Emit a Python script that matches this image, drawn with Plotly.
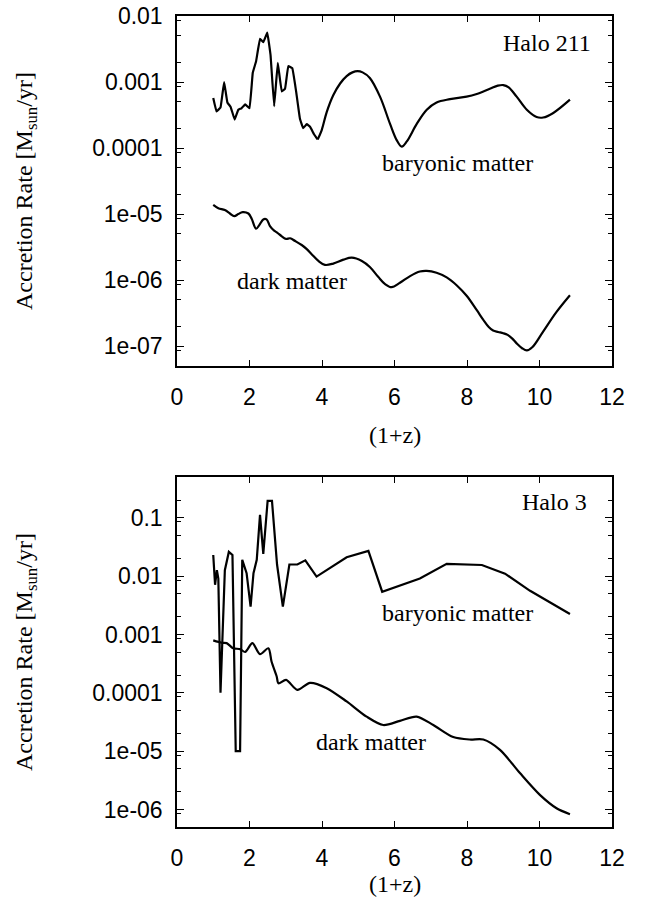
import math
import plotly.graph_objects as go

# ---------------- data ----------------
# Halo 211 (top panel)
h211_bar_x = [1.00, 1.09, 1.20, 1.30, 1.39, 1.48, 1.59, 1.69, 1.78, 1.88, 2.00, 2.09, 2.18, 2.29,
              2.38, 2.49, 2.58, 2.68, 2.78, 2.89, 2.98, 3.07, 3.18, 3.28, 3.39, 3.48, 3.58, 3.67,
              3.78, 3.88, 3.99, 4.13, 4.31, 4.50, 4.68, 4.84, 4.98, 5.12, 5.32, 5.60, 5.88, 6.06, 6.20,
              6.34, 6.61, 6.89, 7.16, 7.53, 7.99, 8.27, 8.63, 8.85, 9.00, 9.15, 9.37, 9.65, 9.92, 10.10,
              10.38, 10.84]
h211_bar_y = [5.75e-4, 3.6e-4, 4.1e-4, 1.0e-3, 4.9e-4, 4.2e-4, 2.7e-4, 3.8e-4, 4.0e-4, 4.6e-4,
              4.0e-4, 1.38e-3, 2.04e-3, 4.5e-3, 4.0e-3, 5.6e-3, 2.57e-3, 4.3e-4, 1.95e-3, 7.2e-4,
              7.9e-4, 1.74e-3, 1.62e-3, 7.6e-4, 2.8e-4, 2.0e-4, 2.3e-4, 2.1e-4, 1.62e-4, 1.35e-4,
              1.86e-4, 3.5e-4, 6.3e-4, 9.5e-4, 1.23e-3, 1.40e-3, 1.46e-3, 1.40e-3, 1.15e-3, 6.0e-4, 2.3e-4,
              1.32e-4, 1.05e-4, 1.26e-4, 2.3e-4, 3.8e-4, 4.9e-4, 5.5e-4, 6.0e-4, 6.6e-4, 7.9e-4,
              8.8e-4, 9.0e-4, 8.3e-4, 6.0e-4, 3.8e-4, 2.95e-4, 2.9e-4, 3.4e-4, 5.4e-4]

h211_dm_x = [1.00, 1.14, 1.32, 1.46, 1.58, 1.69, 1.81, 1.97, 2.06, 2.18, 2.27, 2.38, 2.47, 2.57,
             2.68, 2.77, 2.89, 3.01, 3.12, 3.26, 3.44, 3.58, 3.72, 3.90, 4.08, 4.31, 4.59, 4.82,
             5.10, 5.32, 5.55, 5.74, 5.92, 6.15, 6.43, 6.70, 6.89, 7.16, 7.44, 7.72, 7.99, 8.27,
             8.45, 8.60, 8.72, 8.86, 9.00, 9.12, 9.25, 9.37, 9.52, 9.65, 9.80, 10.10, 10.47, 10.84]
h211_dm_y = [1.38e-5, 1.23e-5, 1.15e-5, 1.02e-5, 9.3e-6, 1.0e-5, 1.07e-5, 1.02e-5, 8.5e-6, 6.0e-6,
             6.8e-6, 8.3e-6, 8.3e-6, 6.5e-6, 5.6e-6, 5.2e-6, 4.6e-6, 4.2e-6, 4.3e-6, 3.9e-6,
             3.4e-6, 2.95e-6, 2.45e-6, 1.95e-6, 1.7e-6, 1.78e-6, 2.04e-6, 2.19e-6, 1.95e-6,
             1.58e-6, 1.12e-6, 8.7e-7, 7.8e-7, 9.1e-7, 1.15e-6, 1.35e-6, 1.38e-6, 1.29e-6, 1.1e-6,
             8.3e-7, 5.8e-7, 3.5e-7, 2.5e-7, 1.95e-7, 1.72e-7, 1.64e-7, 1.57e-7, 1.48e-7, 1.3e-7,
             1.1e-7, 9.3e-8, 8.6e-8, 9.6e-8, 1.66e-7, 3.3e-7, 5.9e-7]

# Halo 3 (bottom panel)
h3_bar_x = [1.00, 1.05, 1.10, 1.14, 1.20, 1.32, 1.43, 1.53, 1.62, 1.74, 1.80, 1.92, 2.03, 2.11,
            2.20, 2.29, 2.38, 2.50, 2.62, 2.76, 2.92, 3.10, 3.32, 3.54, 3.85, 4.25, 4.68, 5.28,
            5.66, 6.70, 7.44, 8.41, 9.05, 9.74, 10.84]
h3_bar_y = [2.3e-2, 7.1e-3, 1.26e-2, 9.1e-3, 1.0e-4, 1.26e-2, 2.6e-2, 2.3e-2, 1.0e-5, 1.0e-5,
            1.9e-2, 1.12e-2, 3.0e-3, 1.12e-2, 1.9e-2, 0.112, 2.4e-2, 0.195, 0.195, 1.58e-2,
            3.0e-3, 1.58e-2, 1.58e-2, 1.86e-2, 9.8e-3, 1.41e-2, 2.1e-2, 2.7e-2, 5.4e-3, 9.1e-3,
            1.62e-2, 1.55e-2, 1.1e-2, 5.6e-3, 2.24e-3]

h3_dm_x = [1.00, 1.23, 1.37, 1.55, 1.74, 1.88, 2.08, 2.29, 2.52, 2.61, 2.75, 2.80, 3.01, 3.32,
           3.67, 4.13, 4.68, 5.23, 5.69, 6.15, 6.61, 7.07, 7.62, 8.08, 8.45, 8.91, 9.46, 10.01,
           10.47, 10.84]
h3_dm_y = [7.9e-4, 7.2e-4, 7.1e-4, 5.8e-4, 5.6e-4, 5.0e-4, 7.1e-4, 4.6e-4, 5.8e-4, 3.4e-4,
           1.9e-4, 1.45e-4, 1.66e-4, 1.12e-4, 1.48e-4, 1.2e-4, 7.1e-5, 3.9e-5, 2.8e-5, 3.3e-5,
           3.9e-5, 2.8e-5, 1.74e-5, 1.58e-5, 1.58e-5, 1.05e-5, 4.2e-6, 1.78e-6, 1.05e-6, 8.3e-7]

x_ticks = [0, 2, 4, 6, 8, 10, 12]
top_y_ticks = [1e-7, 1e-6, 1e-5, 1e-4, 1e-3, 1e-2]
top_y_labels = ["1e-07", "1e-06", "1e-05", "0.0001", "0.001", "0.01"]
bot_y_ticks = [1e-6, 1e-5, 1e-4, 1e-3, 1e-2, 1e-1]
bot_y_labels = ["1e-06", "1e-05", "0.0001", "0.001", "0.01", "0.1"]
minor_mult = [2, 5, 8.5]

# ---------------- figure ----------------
W, H = 651, 904
X0, X1 = 177, 612
TOP = (16, 366)
BOT = (477, 827)

def ydom(p):
    return [1 - p[1] / H, 1 - p[0] / H]

SANS = "Liberation Sans, Arial, sans-serif"
SERIF = "Liberation Serif, Times New Roman, serif"
LINE = dict(color="black", width=2.2)

# the noisy low-(1+z) part of the Halo 211 baryonic curve is drawn with straight
# segments, the smooth remainder with a spline (both from the same arrays)
split = h211_bar_x.index(3.88)

fig = go.Figure()
fig.add_trace(go.Scatter(x=h211_bar_x[:split + 1], y=h211_bar_y[:split + 1], mode="lines",
                         line=dict(**LINE, shape="spline", smoothing=0.2),
                         xaxis="x", yaxis="y", showlegend=False))
fig.add_trace(go.Scatter(x=h211_bar_x[split:], y=h211_bar_y[split:], mode="lines",
                         line=dict(**LINE, shape="spline", smoothing=1.0),
                         xaxis="x", yaxis="y", showlegend=False))
fig.add_trace(go.Scatter(x=h211_dm_x, y=h211_dm_y, mode="lines", line=dict(**LINE, shape="spline", smoothing=1.0),
                         xaxis="x", yaxis="y", showlegend=False))
fig.add_trace(go.Scatter(x=h3_bar_x, y=h3_bar_y, mode="lines", line=dict(**LINE),
                         xaxis="x2", yaxis="y2", showlegend=False))
fig.add_trace(go.Scatter(x=h3_dm_x, y=h3_dm_y, mode="lines", line=dict(**LINE, shape="spline", smoothing=0.8),
                         xaxis="x2", yaxis="y2", showlegend=False))

def minor_vals(lo, hi):
    out = []
    for e in range(lo, hi + 1):
        for m in minor_mult:
            out.append(m * 10 ** e)
    return out

common_ax = dict(showline=True, linecolor="black", linewidth=1.5, mirror="ticks", ticks="inside",
                 tickcolor="black", tickwidth=1.2, showgrid=False, zeroline=False, automargin=False,
                 tickfont=dict(family=SANS, size=23, color="black"))

xax = dict(common_ax, range=[0, 12], tickmode="array", tickvals=x_ticks, ticklen=6,
           domain=[X0 / W, X1 / W], ticklabelstandoff=10)

fig.update_layout(
    width=W, height=H, autosize=False, margin=dict(l=0, r=0, t=0, b=0, pad=0, autoexpand=False),
    paper_bgcolor="white", plot_bgcolor="white",
    xaxis=dict(xax, anchor="y"),
    yaxis=dict(common_ax, type="log", range=[math.log10(5e-8), -2], domain=ydom(TOP), anchor="x",
               tickmode="array", tickvals=top_y_ticks, ticktext=top_y_labels, ticklen=7,
               ticklabelstandoff=8,
               minor=dict(tickmode="array", tickvals=minor_vals(-8, -3), ticklen=4, ticks="inside",
                          tickcolor="black", tickwidth=1)),
    xaxis2=dict(xax, anchor="y2"),
    yaxis2=dict(common_ax, type="log", range=[math.log10(5e-7), math.log10(0.5)], domain=ydom(BOT), anchor="x2",
                tickmode="array", tickvals=bot_y_ticks, ticktext=bot_y_labels, ticklen=7,
                ticklabelstandoff=8,
                minor=dict(tickmode="array", tickvals=minor_vals(-7, -1), ticklen=4, ticks="inside",
                           tickcolor="black", tickwidth=1)),
)

tf = dict(family=SERIF, size=24, color="black")
ann = [
    # panel labels
    dict(x=11.48, y=-2.41, xref="x", yref="y", text="Halo 211", xanchor="right", yanchor="middle", showarrow=False, font=tf),
    dict(x=7.75, y=-4.22, xref="x", yref="y", text="baryonic matter", xanchor="center", yanchor="middle", showarrow=False, font=tf),
    dict(x=3.17, y=-6.01, xref="x", yref="y", text="dark matter", xanchor="center", yanchor="middle", showarrow=False, font=tf),
    dict(x=11.37, y=-0.73, xref="x2", yref="y2", text="Halo 3", xanchor="right", yanchor="middle", showarrow=False, font=tf),
    dict(x=7.75, y=-2.63, xref="x2", yref="y2", text="baryonic matter", xanchor="center", yanchor="middle", showarrow=False, font=tf),
    dict(x=5.35, y=-4.84, xref="x2", yref="y2", text="dark matter", xanchor="center", yanchor="middle", showarrow=False, font=tf),
    # axis titles
    dict(x=(X0 + X1) / 2 / W, y=1 - 435 / H, xref="paper", yref="paper", text="(1+z)", showarrow=False,
         xanchor="center", yanchor="middle", font=tf),
    dict(x=(X0 + X1) / 2 / W, y=1 - 884 / H, xref="paper", yref="paper", text="(1+z)", showarrow=False,
         xanchor="center", yanchor="middle", font=tf),
    dict(x=26 / W, y=1 - 191 / H, xref="paper", yref="paper", text="Accretion Rate [M<sub>sun</sub>/yr]",
         showarrow=False, textangle=-90, xanchor="center", yanchor="middle", font=tf),
    dict(x=26 / W, y=1 - 652 / H, xref="paper", yref="paper", text="Accretion Rate [M<sub>sun</sub>/yr]",
         showarrow=False, textangle=-90, xanchor="center", yanchor="middle", font=tf),
]
fig.update_layout(annotations=ann)

fig.write_html("out.html", config={"responsive": False, "displayModeBar": False},
               post_script="document.body.style.margin='0';document.body.style.overflow='hidden';")
